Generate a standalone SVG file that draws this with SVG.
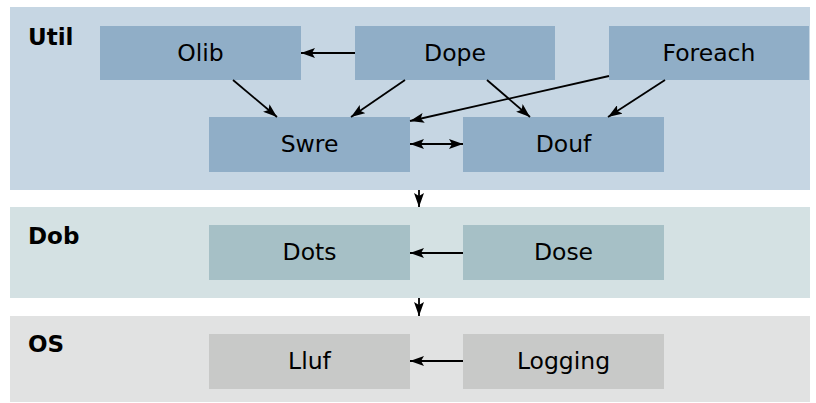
<svg xmlns="http://www.w3.org/2000/svg" width="816" height="403" viewBox="0 0 816 403">
<style>
.lbl{font-family:"DejaVu Sans",sans-serif;font-weight:bold;font-size:23px;fill:#000}
.t{font-family:"DejaVu Sans",sans-serif;font-size:23.5px;fill:#000;text-anchor:middle}
.e{stroke:#000;stroke-width:1.8;fill:none;marker-end:url(#ah)}
.n1{fill:#90aec7}
.n2{fill:#a6c0c6}
.n3{fill:#c8c9c8}
</style>
<defs>
<marker id="ah" viewBox="0 0 14 10" refX="14" refY="5" markerWidth="14" markerHeight="10" markerUnits="userSpaceOnUse" orient="auto-start-reverse">
<path d="M0,0 L14,5 L0,10 L3,5 z" fill="#000"/>
</marker>
</defs>
<g id="band-util"><rect x="10" y="7" width="800" height="183" fill="#c6d6e3"/><text class="lbl" x="28" y="45">Util</text></g>
<g id="band-dob"><rect x="10" y="207" width="800" height="91" fill="#d4e1e3"/><text class="lbl" x="28" y="244">Dob</text></g>
<g id="band-os"><rect x="10" y="316" width="800" height="86" fill="#e1e2e2"/><text class="lbl" x="28" y="352">OS</text></g>
<g id="olib"><rect class="n1" x="100" y="26" width="201" height="54"/><text class="t" x="200.5" y="61">Olib</text></g>
<g id="dope"><rect class="n1" x="355" y="26" width="200" height="54"/><text class="t" x="455" y="61">Dope</text></g>
<g id="foreach"><rect class="n1" x="609" y="26" width="200" height="54"/><text class="t" x="709" y="61">Foreach</text></g>
<g id="swre"><rect class="n1" x="209" y="117" width="201" height="55"/><text class="t" x="309.5" y="152">Swre</text></g>
<g id="douf"><rect class="n1" x="463" y="117" width="201" height="55"/><text class="t" x="563.5" y="152">Douf</text></g>
<g id="dots"><rect class="n2" x="209" y="225" width="201" height="55"/><text class="t" x="309.5" y="260">Dots</text></g>
<g id="dose"><rect class="n2" x="463" y="225" width="201" height="55"/><text class="t" x="563.5" y="260">Dose</text></g>
<g id="lluf"><rect class="n3" x="209" y="334" width="201" height="55"/><text class="t" x="309.5" y="369">Lluf</text></g>
<g id="logging"><rect class="n3" x="463" y="334" width="201" height="55"/><text class="t" x="563.5" y="369">Logging</text></g>
<g id="edges">
<line class="e" x1="355" y1="53" x2="301" y2="53"/>
<line class="e" x1="233" y1="80" x2="277" y2="117"/>
<line class="e" x1="405" y1="80" x2="351" y2="117"/>
<line class="e" x1="609" y1="76" x2="410" y2="121"/>
<line class="e" x1="487" y1="80" x2="530" y2="117"/>
<line class="e" x1="665" y1="80" x2="608" y2="117"/>
<line class="e" x1="410" y1="144" x2="463" y2="144" style="marker-start:url(#ah)"/>
<line class="e" x1="419" y1="190" x2="419" y2="207"/>
<line class="e" x1="419" y1="298" x2="419" y2="316"/>
<line class="e" x1="463" y1="253" x2="410" y2="253"/>
<line class="e" x1="463" y1="361" x2="410" y2="361"/>
</g>
</svg>
